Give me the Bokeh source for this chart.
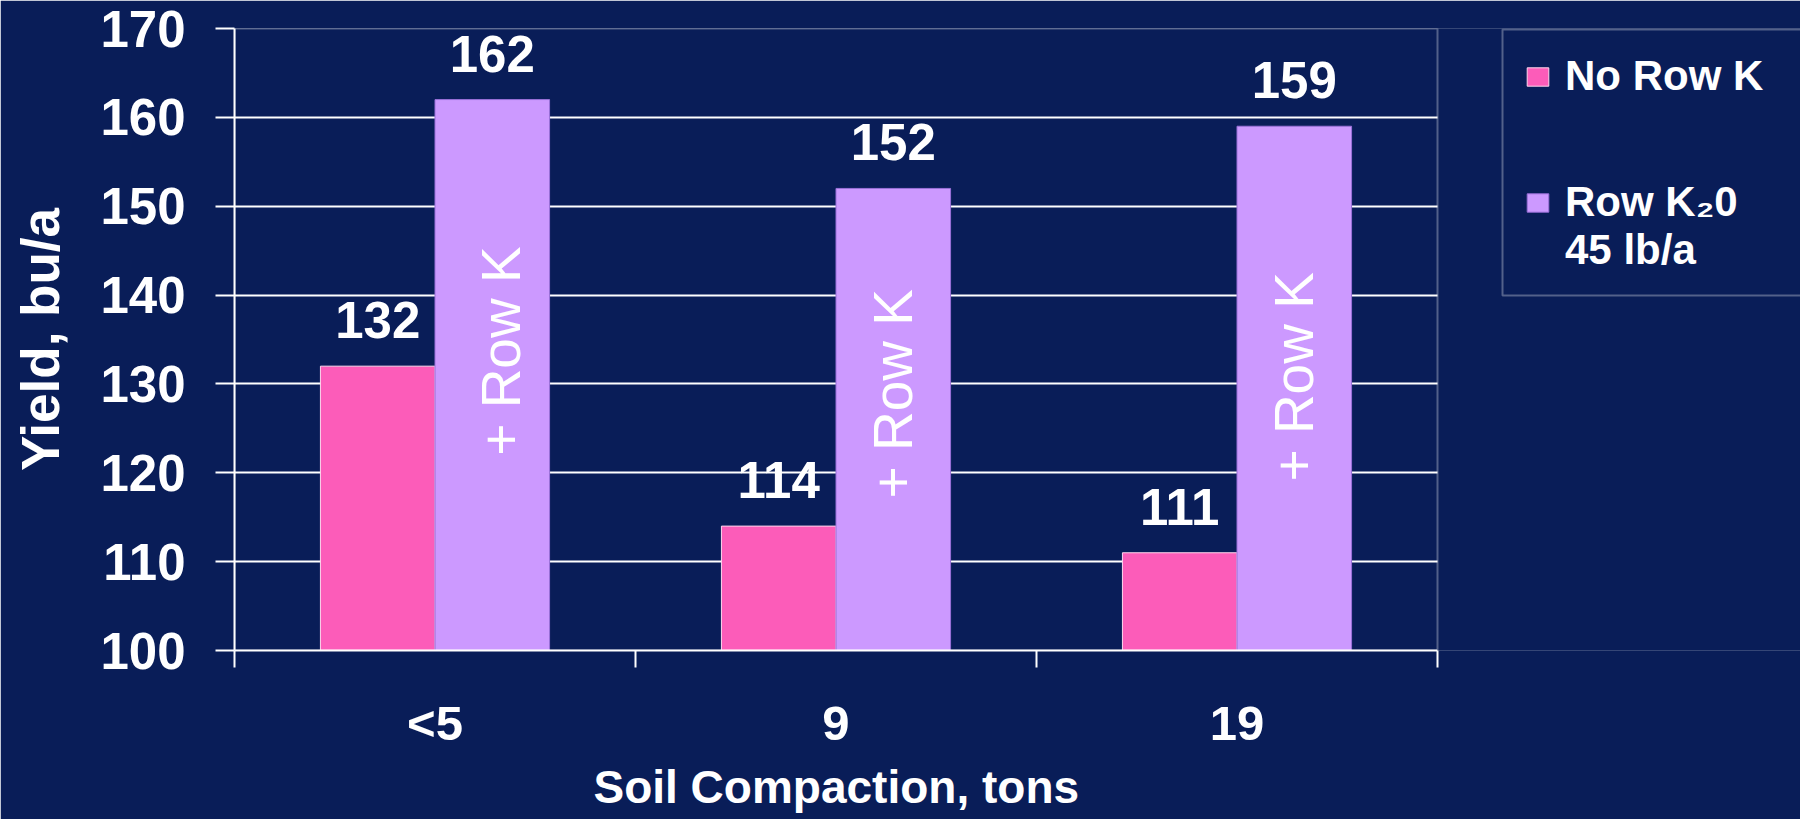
import numpy as np
from bokeh.plotting import figure
from bokeh.models import (BoxAnnotation, ColumnDataSource, FixedTicker, LabelSet,
                          Legend, LegendItem, Range1d, Title)
from bokeh.core.properties import value
from bokeh.embed import file_html
from bokeh.resources import INLINE

# ---- data ----
categories = ["<5", "9", "19"]
no_row_k = [132, 114, 111]
row_k2o = [162, 152, 159]
series_names = ["No Row K", "Row K₂0"]
series_note = "45 lb/a"
y_ticks = [100, 110, 120, 130, 140, 150, 160, 170]
x_title = "Soil Compaction, tons"
y_title = "Yield, bu/a"
bar_note = "+ Row K"
note_y = [133.7, 128.9, 130.8]   # placement of the rotated note in each lilac bar
note_dx = [9, 0, 0]              # small horizontal nudge (px) of that note

# ---- style / layout ----
BG = "#091d58"
PINK = "#FC5CB9"
LILAC = "#CC99FF"
FONT = "Liberation Sans"
W, H = 1800, 819
PLOT_L, PLOT_R, PLOT_T, PLOT_B = 234, 1437, 28, 650   # plot area in page pixels

ncat = len(categories)
x_per_px = ncat / (PLOT_R - PLOT_L)
y_per_px = (y_ticks[-1] - y_ticks[0]) / (PLOT_B - PLOT_T)


def xd(px):
    return (px - PLOT_L) * x_per_px


def yd(py):
    return y_ticks[-1] - (py - PLOT_T) * y_per_px


idx = np.arange(ncat)
bw = 1 / 3.5
src = ColumnDataSource(dict(
    x1=idx + 0.5 - bw / 2,
    x2=idx + 0.5 + bw / 2,
    a=no_row_k,
    b=row_k2o,
    la=[str(v) for v in no_row_k],
    lb=[str(v) for v in row_k2o],
    ny=note_y,
    ndx=note_dx,
    note=[bar_note] * ncat,
))

p = figure(width=W, height=H, output_backend="svg", toolbar_location=None,
           x_range=Range1d(0, xd(W)), y_range=Range1d(y_ticks[0], y_ticks[-1]),
           min_border_left=PLOT_L, min_border_right=0, min_border_top=PLOT_T,
           min_border_bottom=H - PLOT_B, background_fill_color=BG, border_fill_color=BG)
p.outline_line_color = None

r1 = p.vbar(x="x1", top="a", bottom=y_ticks[0], width=bw, source=src,
            fill_color=PINK, line_color="#ffd6ee", line_width=1)
r2 = p.vbar(x="x2", top="b", bottom=y_ticks[0], width=bw, source=src,
            fill_color=LILAC, line_color="#9a70d8", line_width=1)
# swatch-only renderer (no data) for the legend's second text line
r_blank = p.vbar(x=[], top=[], width=bw, fill_alpha=0, line_alpha=0)

# grid
p.xgrid.visible = False
p.ygrid.ticker = FixedTicker(ticks=y_ticks)
p.ygrid.grid_line_color = "white"
p.ygrid.grid_line_width = 2

# the area right of the plot box is plain background
p.add_layout(BoxAnnotation(left=ncat, bottom=y_ticks[0], top=y_ticks[-1],
                           fill_color=BG, fill_alpha=1, line_alpha=0))
# plot box border
p.add_layout(BoxAnnotation(left=0, right=ncat, bottom=y_ticks[0], top=y_ticks[-1],
                           fill_alpha=0, line_color="white", line_width=2))

# y axis
ya = p.yaxis[0]
ya.ticker = FixedTicker(ticks=y_ticks)
ya.axis_line_color = "white"
ya.axis_line_width = 2
ya.major_tick_line_color = "white"
ya.major_tick_line_width = 2
ya.major_tick_out = 19
ya.major_tick_in = 0
ya.minor_tick_line_color = None
ya.major_label_text_color = "white"
ya.major_label_text_font = FONT
ya.major_label_text_font_style = "bold"
ya.major_label_text_font_size = "51px"
ya.major_label_standoff = 30
ya.axis_label = y_title
ya.axis_label_text_color = "white"
ya.axis_label_text_font = FONT
ya.axis_label_text_font_style = "bold"
ya.axis_label_text_font_size = "53px"
ya.axis_label_standoff = 27

# x axis
xa = p.xaxis[0]
xa.bounds = (0, ncat)
xa.ticker = FixedTicker(ticks=list(idx + 0.5), minor_ticks=list(range(ncat + 1)))
xa.major_label_overrides = {float(i + 0.5): c for i, c in enumerate(categories)}
xa.axis_line_color = "white"
xa.axis_line_width = 2
xa.major_tick_out = 0
xa.major_tick_in = 0
xa.major_tick_line_color = None
xa.minor_tick_out = 17
xa.minor_tick_in = 0
xa.minor_tick_line_color = "white"
xa.minor_tick_line_width = 2
xa.major_label_text_color = "white"
xa.major_label_text_font = FONT
xa.major_label_text_font_style = "bold"
xa.major_label_text_font_size = "49px"
xa.major_label_standoff = 28

# x-axis title, centred under the plot box (not under the whole frame)
X_TITLE_W = 485
p.add_layout(Title(text=x_title, align="left",
                   offset=(PLOT_R - PLOT_L) / 2 - X_TITLE_W / 2,
                   standoff=12, text_color="white", text_font=FONT,
                   text_font_style="bold", text_font_size="46px"), "below")

# value labels
for xcol, ycol, tcol in (("x1", "a", "la"), ("x2", "b", "lb")):
    p.add_layout(LabelSet(x=xcol, y=ycol, text=tcol, source=src, y_offset=28,
                          text_align="center", text_baseline="alphabetic",
                          text_color="white", text_font=value(FONT),
                          text_font_style="bold", text_font_size="51px"))

# rotated notes inside lilac bars
p.text(x="x2", y="ny", text="note", source=src, angle=np.pi / 2, x_offset="ndx",
       text_align="center", text_baseline="middle", text_color="white",
       text_font=value(FONT), text_font_size="55px")

# ---- legend ----
# frame of the legend (its right edge runs past the page, as in the original)
p.add_layout(BoxAnnotation(left=xd(1502), right=xd(W + 60), top=yd(29), bottom=yd(295),
                           fill_alpha=0, line_color="white", line_width=2))


def styled_legend(items, loc, spacing=0):
    lg = Legend(items=items, location=loc, orientation="vertical")
    lg.border_line_color = None
    lg.background_fill_alpha = 0
    lg.label_text_color = "white"
    lg.label_text_font = FONT
    lg.label_text_font_style = "bold"
    lg.label_text_font_size = "42px"
    lg.glyph_width = 27
    lg.glyph_height = 23
    lg.label_standoff = 14
    lg.padding = 0
    lg.spacing = spacing
    lg.margin = 0
    return lg


LEG_X = 1524 - PLOT_L
p.add_layout(styled_legend([LegendItem(label=series_names[0], renderers=[r1])],
                           (LEG_X, 550)), "center")
p.add_layout(styled_legend([LegendItem(label=series_names[1], renderers=[r2]),
                            LegendItem(label=series_note, renderers=[r_blank])],
                           (LEG_X, 376), spacing=-4), "center")

open("out.html", "w").write(file_html(p, INLINE))
